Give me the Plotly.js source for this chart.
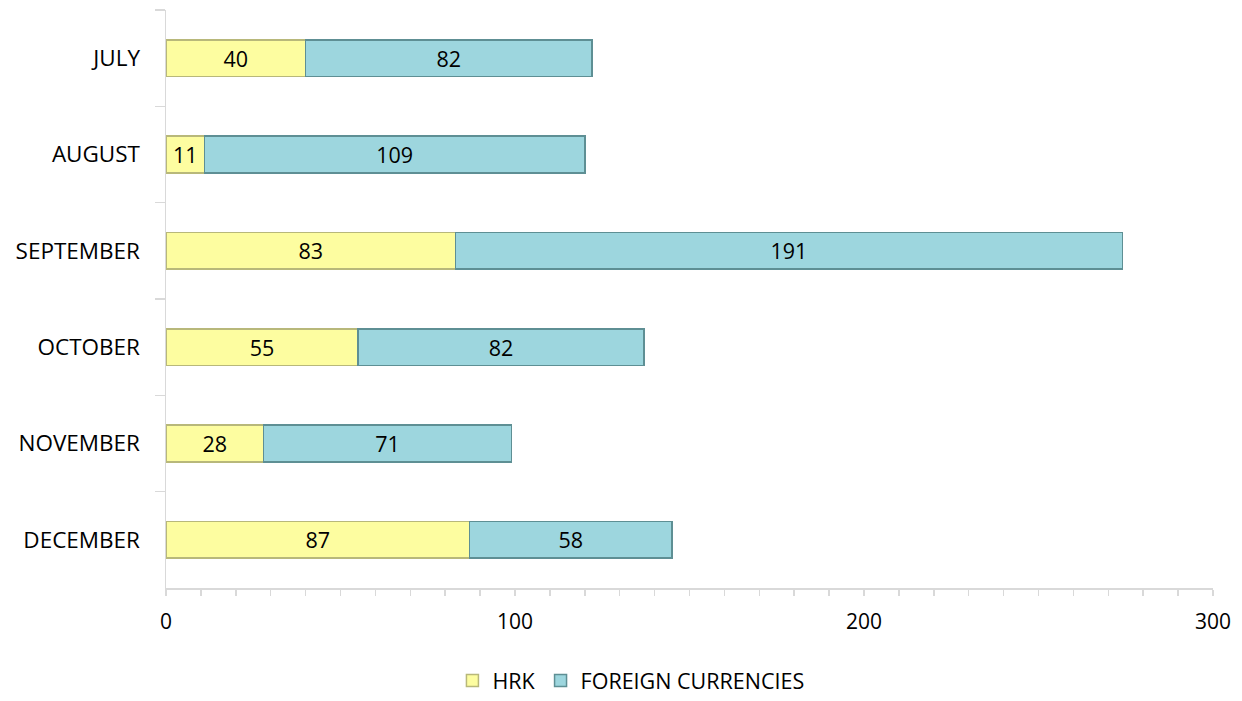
<!DOCTYPE html>
<html>
<head>
<meta charset="utf-8">
<script src="https://cdn.plot.ly/plotly-3.0.1.min.js"></script>
<style>html,body{margin:0;padding:0;background:#fff;}#chart{width:1242px;height:701px;}</style>
</head>
<body>
<div id="chart"></div>
<script>
const months = ["JULY", "AUGUST", "SEPTEMBER", "OCTOBER", "NOVEMBER", "DECEMBER"];
const hrk = [40, 11, 83, 55, 28, 87];
const foreign = [82, 109, 191, 82, 71, 58];
const seriesNames = ["HRK", "FOREIGN CURRENCIES"];

const FONT = "'Open Sans', Lato, sans-serif";
const FS = 22.5;

const traces = [
  {
    type: "bar", orientation: "h", name: seriesNames[0],
    y: months, x: hrk, text: hrk.map(String),
    textposition: "inside", insidetextanchor: "middle", constraintext: "none", textangle: 0,
    textfont: {family: FONT, size: FS - 1, color: "#000"},
    marker: {color: "#fdfda0", line: {color: "#b8b87a", width: 1.5}},
    hoverinfo: "x+y+name"
  },
  {
    type: "bar", orientation: "h", name: seriesNames[1],
    y: months, x: foreign, text: foreign.map(String),
    textposition: "inside", insidetextanchor: "middle", constraintext: "none", textangle: 0,
    textfont: {family: FONT, size: FS - 1, color: "#000"},
    marker: {color: "#9dd6de", line: {color: "#5e8f94", width: 1.5}},
    hoverinfo: "x+y+name"
  }
];

const layout = {
  width: 1242, height: 701,
  margin: {l: 166, r: 29, t: 10, b: 113},
  barmode: "stack",
  bargap: 0.62,
  paper_bgcolor: "#fff", plot_bgcolor: "#fff",
  font: {family: FONT, size: FS, color: "#000"},
  xaxis: {
    range: [0, 300], dtick: 100, tick0: 0,
    showgrid: false, zeroline: false,
    showline: true, linecolor: "#d9d9d9", linewidth: 1.5,
    ticks: "outside", ticklen: 6, tickcolor: "#d9d9d9", tickwidth: 1.5,
    minor: {dtick: 10, ticks: "outside", ticklen: 6, tickcolor: "#d9d9d9", tickwidth: 1.5},
    ticklabelstandoff: 8,
    tickfont: {family: FONT, size: FS - 1.5, color: "#000"},
    fixedrange: true
  },
  yaxis: {
    autorange: "reversed", type: "category",
    showgrid: false, zeroline: false,
    showline: true, linecolor: "#d9d9d9", linewidth: 1.5,
    ticks: "outside", tickson: "boundaries", ticklen: 10, tickcolor: "#d9d9d9", tickwidth: 1.5,
    ticklabelstandoff: 20,
    tickfont: {family: FONT, size: FS, color: "#000"},
    fixedrange: true
  },
  showlegend: true,
  legend: {
    orientation: "h", xref: "container", yref: "container",
    x: 0.508, xanchor: "center", y: -0.008, yanchor: "bottom",
    font: {family: FONT, size: FS - 1, color: "#000"},
    itemwidth: 30, tracegroupgap: 0, traceorder: "normal"
  }
};

Plotly.newPlot("chart", traces, layout, {displayModeBar: false, staticPlot: true});
</script>
</body>
</html>
